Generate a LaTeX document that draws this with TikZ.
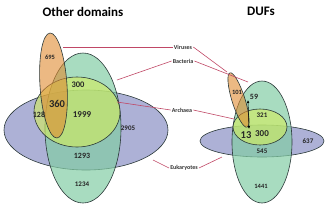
\documentclass[tikz,border=0pt]{standalone}
\usepackage{fontspec}
\setmainfont{Carlito}
\usetikzlibrary{arrows.meta}
\definecolor{eukcol}{HTML}{ADB1D6}
\definecolor{baccol}{HTML}{83CDA5}
\definecolor{arccol}{HTML}{D4EE5A}
\definecolor{vircol}{HTML}{E08A30}
\definecolor{rim}{HTML}{2A3838}
\definecolor{crimson}{HTML}{C04866}

\begin{document}
\begin{tikzpicture}[
    x=1pt, y=-1pt,
    font=\bfseries,
    set/.style={draw=rim, line width=0.6pt},
    num/.style={inner sep=0pt, text=black!85, font=\bfseries\fontsize{#1}{#1}\selectfont},
    num/.default=7,
    lab/.style={inner sep=1pt, text=black!80, font=\bfseries\fontsize{6}{6}\selectfont},
    ttl/.style={inner sep=0pt, font=\bfseries\fontsize{13}{13}\selectfont},
    ln/.style={crimson, line width=0.6pt}
  ]
    \useasboundingbox (0,0) rectangle (330,210);
    % left: other domains
    \node[ttl] (tl) at (83,12) {Other domains};
    \filldraw[set, fill=eukcol] (86,130) ellipse [x radius=82, y radius=40];
    \filldraw[set, fill=baccol, fill opacity=0.7] (83,128) ellipse [x radius=38, y radius=75];
    \filldraw[set, fill=arccol, fill opacity=0.6] (77,112) ellipse [x radius=43, y radius=35];
    \filldraw[set, fill=vircol, fill opacity=0.6, rotate around={3.8:(53.5,85.5)}]
      (53.5,85.5) ellipse [x radius=13.5, y radius=52.6];
    \node[num=6.5] (a695) at (50,57) {695};
    \node[num=8.5] (a300) at (78,85) {300};
    \node[num=10.5] (a360) at (57,104) {360};
    \node[num=8] (a128) at (39,115) {128};
    \node[num=9] (a1999) at (82,115) {1999};
    \node[num=7] (a2905) at (128,128) {2905};
    \node[num=8] (a1293) at (82,156) {1293};
    \node[num=7] (a1234) at (82,184) {1234};

    % right: DUFs
    \node[ttl] (tr) at (261,11) {DUFs};
    \filldraw[set, fill=eukcol] (262,141) ellipse [x radius=62, y radius=16];
    \filldraw[set, fill=baccol, fill opacity=0.7] (262,142) ellipse [x radius=30, y radius=61];
    \filldraw[set, fill=arccol, fill opacity=0.6] (260,127) ellipse [x radius=27, y radius=18];
    \filldraw[set, fill=vircol, fill opacity=0.6, rotate around={17.5:(238.5,100)}]
      (238.5,100) ellipse [x radius=6.5, y radius=28.5];
    \node[num=6.5] (b101) at (237,92) {101};
    \node[num=8] (b59) at (254,97) {59};
    \node[num=7] (b321) at (262,115) {321};
    \node[num=10.5] (b13) at (246,135) {13};
    \node[num=9] (b300) at (262,134) {300};
    \node[num=7] (b637) at (308,141) {637};
    \node[num=7] (b545) at (262,151) {545};
    \node[num=6.5] (b1441) at (261,186) {1441};
    \coordinate (pt) at (248,100);
    \coordinate (pb) at (249,129);
    \draw[black, line width=0.5pt, {Latex[length=3pt,width=2.5pt]}-{Latex[length=3pt,width=2.5pt]}] (pt) -- (pb);

    % labels in the middle
    \node[lab] (vir) at (183,47) {Viruses};
    \node[lab] (bac) at (183,61) {Bacteria};
    \node[lab] (arc) at (182,110) {Archaea};
    \node[lab] (euk) at (184,168) {Eukaryotes};
    \coordinate (vl) at (63,47);   \coordinate (vr) at (227,72);
    \coordinate (bl) at (117,80);  \coordinate (br) at (248,82);
    \coordinate (al) at (117,102); \coordinate (ar) at (234,119);
    \coordinate (el) at (153,160); \coordinate (er) at (222,157);
    \draw[ln] (vir.west) -- (vl); \draw[ln] (vir.east) -- (vr);
    \draw[ln] (bac.west) -- (bl); \draw[ln] (bac.east) -- (br);
    \draw[ln] (arc.west) -- (al); \draw[ln] (arc.east) -- (ar);
    \draw[ln] (euk.west) -- (el); \draw[ln] (euk.east) -- (er);
  \end{tikzpicture}
\end{document}
